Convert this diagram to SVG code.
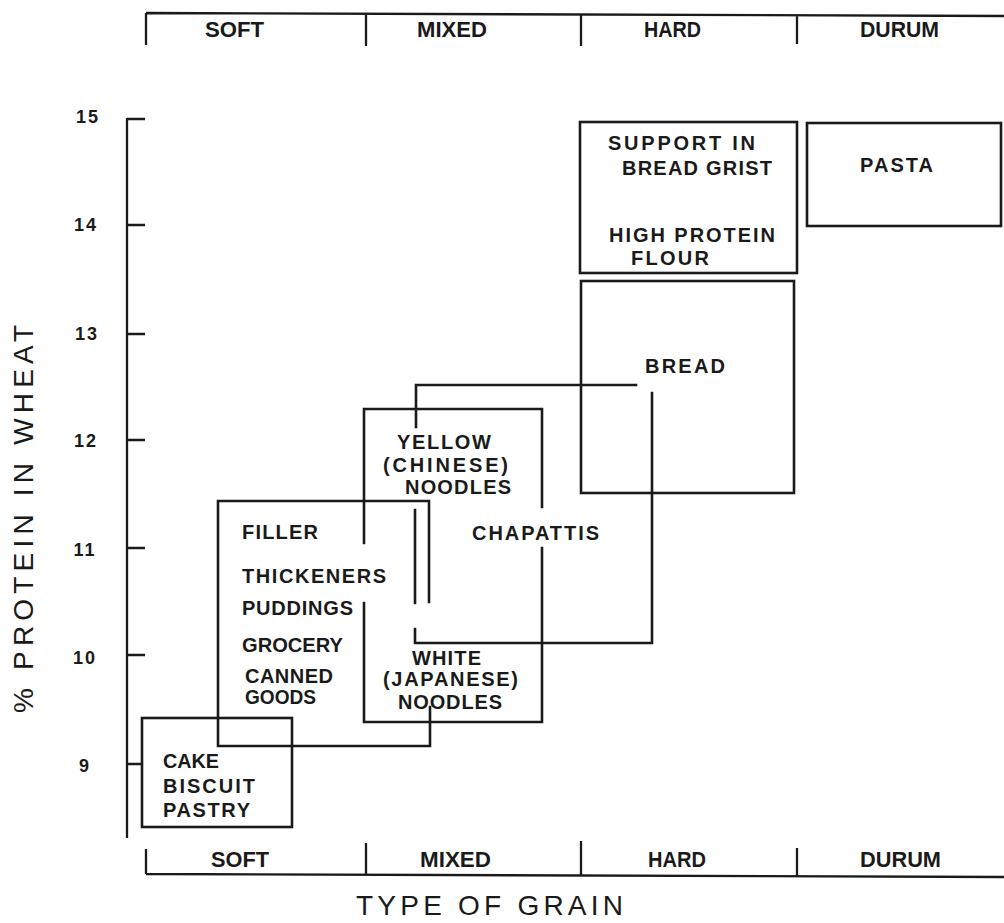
<svg xmlns="http://www.w3.org/2000/svg" width="1004" height="923" viewBox="0 0 1004 923">
<style>
.ln{fill:none;stroke:#1a1a1a;stroke-width:2.6;stroke-linecap:square;stroke-linejoin:miter}
.ax{fill:none;stroke:#1a1a1a;stroke-width:2.3}
.t{font-family:"Liberation Sans",Arial,sans-serif;font-weight:bold;font-size:20px;fill:#1a1a1a}
.c{font-family:"Liberation Sans",Arial,sans-serif;font-weight:bold;font-size:22px;fill:#1a1a1a}
.n{font-family:"Liberation Sans",Arial,sans-serif;font-weight:bold;font-size:18px;letter-spacing:2px;fill:#1a1a1a;text-anchor:middle}
.big{font-family:"Liberation Sans",Arial,sans-serif;font-weight:normal;font-size:28px;fill:#1a1a1a}
</style>
<rect width="1004" height="923" fill="#ffffff"/>

<g id="top-axis">
  <path class="ax" d="M146 13 L1004 16 M146 13 V45 M366 13 V46 M581 14 V46 M797 15 V44"/>
  <text class="c" x="205" y="37" textLength="59" lengthAdjust="spacingAndGlyphs">SOFT</text>
  <text class="c" x="417" y="37" textLength="70" lengthAdjust="spacingAndGlyphs">MIXED</text>
  <text class="c" x="644" y="37" textLength="57" lengthAdjust="spacingAndGlyphs">HARD</text>
  <text class="c" x="860" y="37" textLength="79" lengthAdjust="spacingAndGlyphs">DURUM</text>
</g>

<g id="bottom-axis">
  <path class="ax" d="M146 874 L1004 877 M146 849 V874 M366 843 V875 M581 841 V876 M797 848 V876"/>
  <text class="c" x="211" y="867" textLength="58" lengthAdjust="spacingAndGlyphs">SOFT</text>
  <text class="c" x="420" y="867" textLength="71" lengthAdjust="spacingAndGlyphs">MIXED</text>
  <text class="c" x="648" y="867" textLength="58" lengthAdjust="spacingAndGlyphs">HARD</text>
  <text class="c" x="860" y="867" textLength="81" lengthAdjust="spacingAndGlyphs">DURUM</text>
  <text class="big" x="356" y="915" textLength="267" lengthAdjust="spacing">TYPE OF GRAIN</text>
</g>

<g id="y-axis">
  <path class="ax" d="M127 118 V838 M127 119 H145 M127 225 H145 M127 334 H145 M127 440 H145 M127 548 H145 M127 655 H145 M127 764 H142"/>
  <text class="n" x="88" y="123">15</text>
  <text class="n" x="86" y="231">14</text>
  <text class="n" x="87" y="340">13</text>
  <text class="n" x="86" y="447">12</text>
  <text class="n" x="85" y="556">11</text>
  <text class="n" x="85" y="664">10</text>
  <text class="n" x="85" y="772">9</text>
  <text class="big" transform="translate(33 713) rotate(-90)" textLength="388" lengthAdjust="spacing">% PROTEIN IN WHEAT</text>
</g>

<g id="connectors"></g>

<g id="node-cake">
  <rect class="ln" x="142" y="718" width="150" height="109"/>
  <text class="t" x="163" y="768" textLength="56" lengthAdjust="spacingAndGlyphs">CAKE</text>
  <text class="t" x="163" y="793" textLength="92" lengthAdjust="spacing">BISCUIT</text>
  <text class="t" x="163" y="817" textLength="87" lengthAdjust="spacing">PASTRY</text>
</g>

<g id="node-filler">
  <path class="ln" d="M429 602 V501 H218 V746 H430 V707"/>
  <text class="t" x="242" y="539" textLength="76" lengthAdjust="spacing">FILLER</text>
  <text class="t" x="242" y="583" textLength="144" lengthAdjust="spacing">THICKENERS</text>
  <text class="t" x="242" y="615" textLength="111" lengthAdjust="spacing">PUDDINGS</text>
  <text class="t" x="242" y="652" textLength="101" lengthAdjust="spacingAndGlyphs">GROCERY</text>
  <text class="t" x="245" y="683" textLength="88" lengthAdjust="spacing">CANNED</text>
  <text class="t" x="245" y="704" textLength="71" lengthAdjust="spacingAndGlyphs">GOODS</text>
</g>

<g id="node-noodles">
  <path class="ln" d="M364 543 V409 H542 V507 M542 548 V722 H364 V603"/>
  <text class="t" x="397" y="449" textLength="94" lengthAdjust="spacing">YELLOW</text>
  <text class="t" x="383" y="472" textLength="125" lengthAdjust="spacing">(CHINESE)</text>
  <text class="t" x="405" y="494" textLength="106" lengthAdjust="spacing">NOODLES</text>
  <text class="t" x="412" y="665" textLength="69" lengthAdjust="spacing">WHITE</text>
  <text class="t" x="383" y="686" textLength="135" lengthAdjust="spacing">(JAPANESE)</text>
  <text class="t" x="398" y="709" textLength="104" lengthAdjust="spacing">NOODLES</text>
</g>

<g id="node-chapattis">
  <path class="ln" d="M416 427 V385 H636 M652 393 V643 H415 V629 M415 510 V603"/>
  <text class="t" x="472" y="540" textLength="127" lengthAdjust="spacing">CHAPATTIS</text>
</g>

<g id="node-bread">
  <rect class="ln" x="581" y="281" width="213" height="212"/>
  <text class="t" x="645" y="373" textLength="80" lengthAdjust="spacing">BREAD</text>
</g>

<g id="node-high-protein">
  <rect class="ln" x="580" y="122" width="217" height="151"/>
  <text class="t" x="608" y="150" textLength="147" lengthAdjust="spacing">SUPPORT  IN</text>
  <text class="t" x="622" y="175" textLength="150" lengthAdjust="spacing">BREAD GRIST</text>
  <text class="t" x="609" y="242" textLength="166" lengthAdjust="spacing">HIGH PROTEIN</text>
  <text class="t" x="631" y="265" textLength="78" lengthAdjust="spacing">FLOUR</text>
</g>

<g id="node-pasta">
  <rect class="ln" x="807" y="123" width="194" height="103"/>
  <text class="t" x="860" y="172" textLength="73" lengthAdjust="spacing">PASTA</text>
</g>
</svg>
